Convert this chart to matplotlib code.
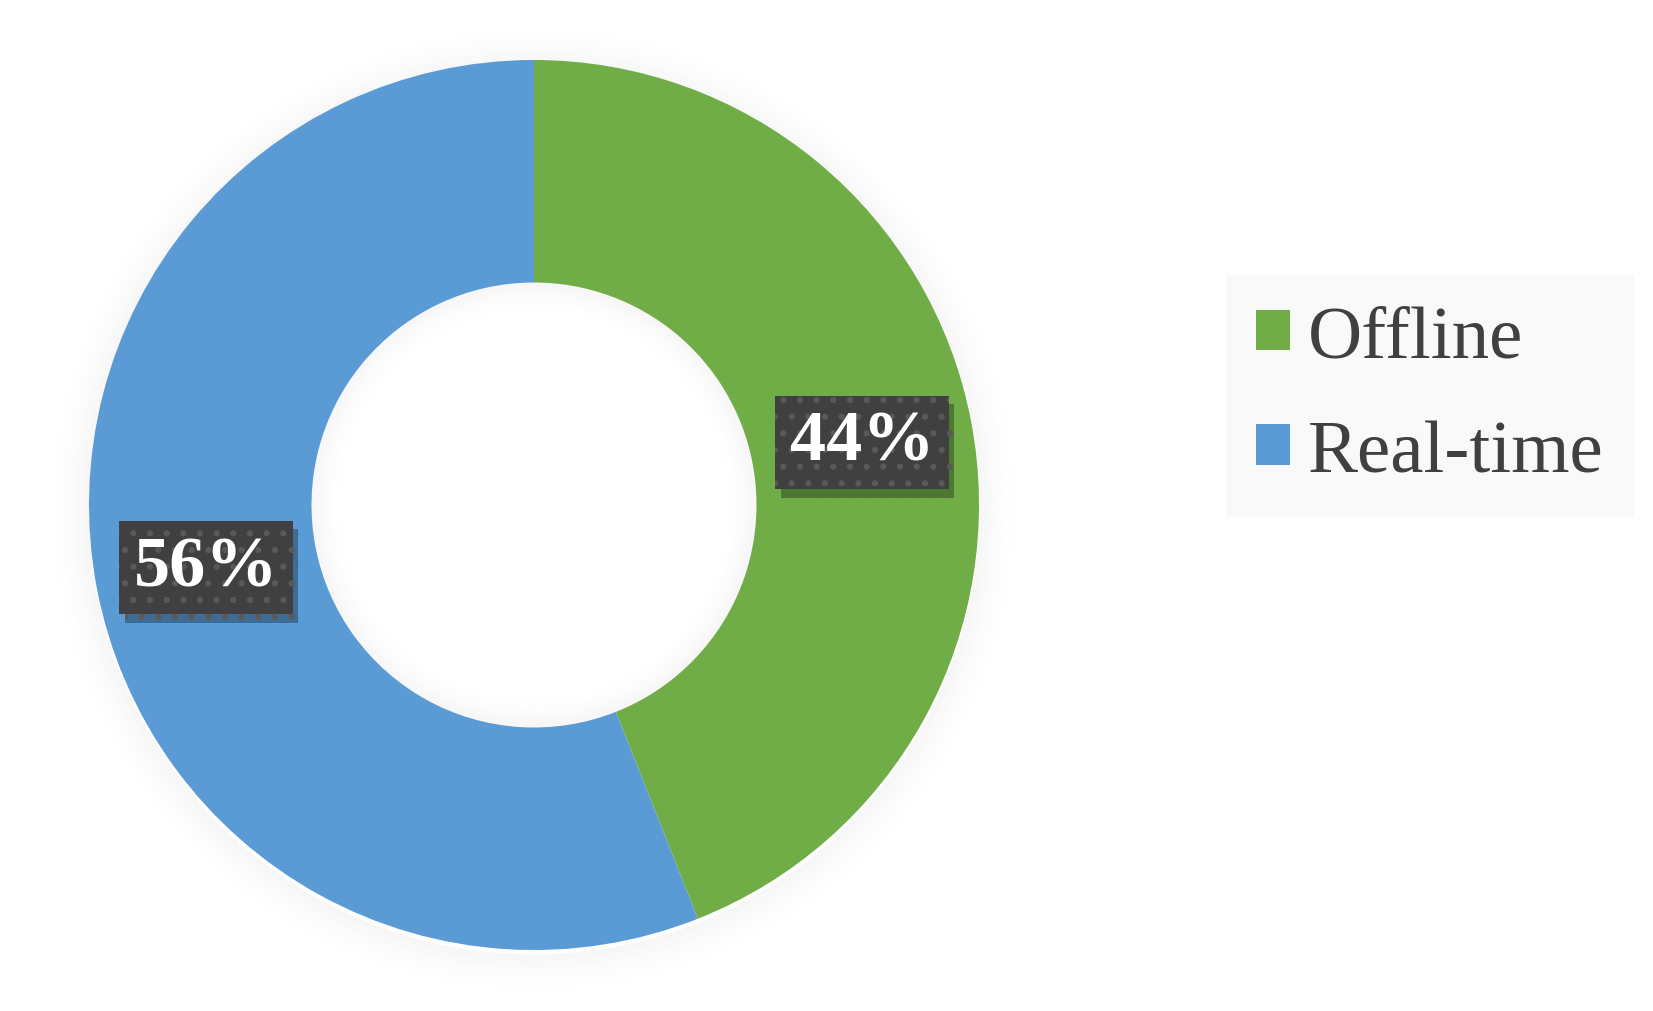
import matplotlib
matplotlib.use("Agg")
import matplotlib.pyplot as plt
from matplotlib.patches import Wedge, Patch
import matplotlib.patheffects as pe

categories = ["Offline", "Real-time"]
values = [44, 56]
colors = ["#70AD47", "#5B9BD5"]

plt.rcParams['font.family'] = ['Liberation Serif', 'DejaVu Serif']
plt.rcParams['hatch.linewidth'] = 2.0

W, H = 1653, 1012
fig = plt.figure(figsize=(W / 100, H / 100), dpi=100)
fig.patch.set_facecolor("white")

R_px = 445.0
cx, cy = 534.0, 506.0
ax_w = 1068.0
ax = fig.add_axes([0, 0, ax_w / W, 1])
ax.axis("off")

# soft outer shadow
n = 30
for i in range(n):
    r = 1.0 + 0.09 * (i + 1) / n
    a = 0.035 * (1 - i / n) ** 1.5
    ax.add_patch(Wedge((0, -0.01), r, 0, 360, width=0.09 / n, facecolor="black",
                       alpha=a, linewidth=0, zorder=0))

wedges, texts, autotexts = ax.pie(
    values, colors=colors, startangle=90, counterclock=False,
    radius=1.0, wedgeprops=dict(width=0.5, linewidth=0),
    autopct=lambda p: f"{p:.0f}%", pctdistance=0.75,
    textprops=dict(color="white", fontsize=52, fontweight="bold",
                   family=['Liberation Serif', 'DejaVu Serif']))
for w in wedges:
    w.set_zorder(2)

# inner hole shadow
for i in range(n):
    r = 0.5 - 0.07 * i / n
    a = 0.035 * (1 - i / n) ** 1.5
    ax.add_patch(Wedge((0, 0), r, 0, 360, width=0.07 / n, facecolor="black",
                       alpha=a, linewidth=0, zorder=3))

ax.set_xlim(-cx / R_px, (ax_w - cx) / R_px)
ax.set_ylim(-(H - cy) / R_px, cy / R_px)
ax.set_aspect("auto")

for t in autotexts:
    t.set_zorder(6)
    t.set_bbox(dict(boxstyle="square,pad=0.2", facecolor="#404040",
                    edgecolor="#595959", hatch=".", linewidth=0))
    t.get_bbox_patch().set_path_effects([
        pe.SimplePatchShadow(offset=(4, -6), shadow_rgbFace="black", alpha=0.3),
        pe.Normal()])

handles = [Patch(facecolor=c, edgecolor="none") for c in colors]
leg = fig.legend(handles, categories, loc="upper left",
                 bbox_to_anchor=(1226 / W, 1 - 276 / H), borderaxespad=0,
                 fontsize=54, frameon=True, fancybox=False,
                 handlelength=0.45, handleheight=0.45, handletextpad=0.24,
                 labelspacing=0.63, borderpad=0.4)
leg.get_frame().set_facecolor("#f8f8f8")
leg.get_frame().set_edgecolor("none")
for txt in leg.get_texts():
    txt.set_color("#404040")

fig.savefig("out.png", dpi=100, facecolor="white")
